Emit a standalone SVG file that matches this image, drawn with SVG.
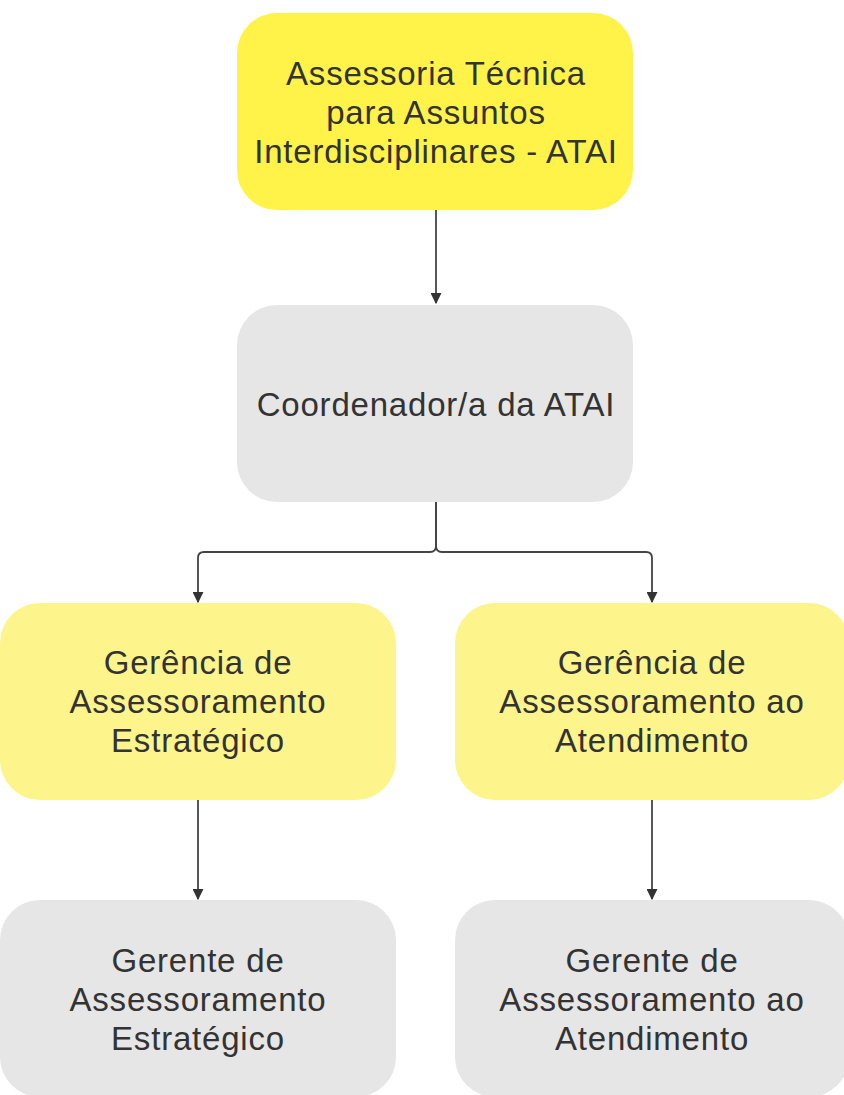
<svg xmlns="http://www.w3.org/2000/svg" width="844" height="1095" viewBox="0 0 844 1095">
<style>
.box{stroke:none}
.y1{fill:#fff34a}
.y2{fill:#fdf58c}
.g{fill:#e6e6e6}
.t{font-family:"Liberation Sans",Arial,sans-serif;font-size:33px;fill:#333333;text-anchor:middle;letter-spacing:0.8px}
.c{fill:none;stroke:#444444;stroke-width:1.8}
</style>
<defs>
<marker id="ah" viewBox="0 0 10 10" refX="9" refY="5" markerWidth="11" markerHeight="11" markerUnits="userSpaceOnUse" orient="auto">
<path d="M0,0 L10,5 L0,10 z" fill="#333333"/>
</marker>
</defs>
<g id="connectors">
<path class="c" d="M436,210 V303" marker-end="url(#ah)"/>
<path class="c" d="M436,502 V546 Q436,552 430,552 H204 Q198,552 198,558 V602" marker-end="url(#ah)"/>
<path class="c" d="M436,502 V546 Q436,552 442,552 H646 Q652,552 652,558 V602" marker-end="url(#ah)"/>
<path class="c" d="M198,800 V899" marker-end="url(#ah)"/>
<path class="c" d="M652,800 V899" marker-end="url(#ah)"/>
</g>
<g id="n1">
<rect class="box y1" x="237" y="13" width="396" height="197" rx="40"/>
<text class="t" x="436" y="85">Assessoria Técnica</text>
<text class="t" x="436" y="124">para Assuntos</text>
<text class="t" x="436" y="163">Interdisciplinares - ATAI</text>
</g>
<g id="n2">
<rect class="box g" x="237" y="305" width="396" height="197" rx="40"/>
<text class="t" x="436" y="416">Coordenador/a da ATAI</text>
</g>
<g id="n3">
<rect class="box y2" x="0" y="603" width="396" height="197" rx="40"/>
<text class="t" x="198" y="674">Gerência de</text>
<text class="t" x="198" y="713">Assessoramento</text>
<text class="t" x="198" y="752">Estratégico</text>
</g>
<g id="n4">
<rect class="box y2" x="455" y="603" width="394" height="197" rx="40"/>
<text class="t" x="652" y="674">Gerência de</text>
<text class="t" x="652" y="713">Assessoramento ao</text>
<text class="t" x="652" y="752">Atendimento</text>
</g>
<g id="n5">
<rect class="box g" x="0" y="900" width="396" height="197" rx="40"/>
<text class="t" x="198" y="972">Gerente de</text>
<text class="t" x="198" y="1011">Assessoramento</text>
<text class="t" x="198" y="1050">Estratégico</text>
</g>
<g id="n6">
<rect class="box g" x="455" y="900" width="394" height="197" rx="40"/>
<text class="t" x="652" y="972">Gerente de</text>
<text class="t" x="652" y="1011">Assessoramento ao</text>
<text class="t" x="652" y="1050">Atendimento</text>
</g>
</svg>
